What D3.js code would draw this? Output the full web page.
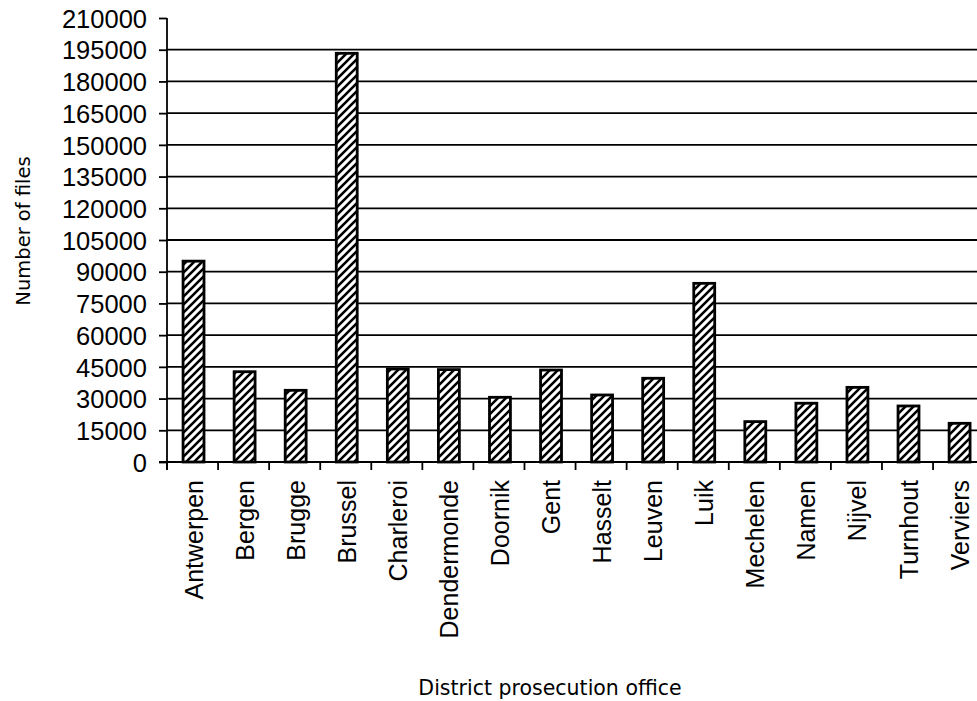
<!DOCTYPE html>
<html>
<head>
<meta charset="utf-8">
<script src="https://cdn.jsdelivr.net/npm/d3@7/dist/d3.min.js"></script>
<style>
html,body{margin:0;padding:0;background:#fff;}
svg{display:block;}
</style>
</head>
<body>
<svg id="chart" width="977" height="701"></svg>
<script>
const categories = ["Antwerpen","Bergen","Brugge","Brussel","Charleroi","Dendermonde","Doornik","Gent","Hasselt","Leuven","Luik","Mechelen","Namen","Nijvel","Turnhout","Verviers"];
const values = [95000,42700,33900,193300,44000,43700,30600,43500,31700,39600,84500,19100,27800,35300,26500,18300];
const yTicks = [0,15000,30000,45000,60000,75000,90000,105000,120000,135000,150000,165000,180000,195000,210000];

const svg = d3.select("#chart");
const x0 = 167, x1 = 167 + 16*51.07, y0 = 462, y1 = 18;

const x = d3.scaleBand().domain(categories).range([x0, x1]).padding(0);
const y = d3.scaleLinear().domain([0, 210000]).range([y0, y1]);

const defs = svg.append("defs");
const pat = defs.append("pattern").attr("id","hatch").attr("patternUnits","userSpaceOnUse")
  .attr("width",8).attr("height",8);
pat.append("rect").attr("width",8).attr("height",8).attr("fill","#fff");
pat.append("path").attr("d","M-1,1 l2,-2 M0,8 l8,-8 M7,9 l2,-2")
  .attr("stroke","#000").attr("stroke-width",2.6);

// gridlines (no line at top 210000)
svg.append("g").selectAll("line").data(yTicks.filter(t => t > 0 && t < 210000)).join("line")
  .attr("x1", x0).attr("x2", 977).attr("y1", d => y(d)).attr("y2", d => y(d))
  .attr("stroke","#000").attr("stroke-width",1.8);

// y axis
const yAxis = d3.axisLeft(y).tickValues(yTicks).tickSize(8).tickFormat(d3.format("d"));
const gy = svg.append("g").attr("transform",`translate(${x0},0)`).call(yAxis);
gy.select(".domain").remove();
gy.selectAll(".tick line").attr("stroke","#000").attr("stroke-width",1.8);
gy.selectAll(".tick text").attr("x",-20).attr("dy","0.36em")
  .style("font-family","'Liberation Sans', Arial, sans-serif").style("font-size","25.5px").attr("fill","#000");
svg.append("line").attr("x1",x0).attr("x2",x0).attr("y1",y1).attr("y2",y0+8)
  .attr("stroke","#000").attr("stroke-width",1.8);

// bars
const bw = x.bandwidth()*0.41;
svg.append("g").selectAll("rect").data(categories).join("rect")
  .attr("x", (d) => x(d) + x.bandwidth()/2 - bw/2 + 1)
  .attr("width", bw)
  .attr("y", (d,i) => y(values[i]))
  .attr("height", (d,i) => y(0) - y(values[i]))
  .attr("fill","url(#hatch)").attr("stroke","#000").attr("stroke-width",2.8);

// x axis baseline and ticks
svg.append("line").attr("x1",x0-8).attr("x2",977).attr("y1",y0).attr("y2",y0)
  .attr("stroke","#000").attr("stroke-width",1.8);
svg.append("g").selectAll("line").data(categories).join("line")
  .attr("x1", d => x(d)).attr("x2", d => x(d)).attr("y1", y0).attr("y2", y0+8)
  .attr("stroke","#000").attr("stroke-width",1.8);

// x labels
svg.append("g").selectAll("text").data(categories).join("text")
  .attr("transform", d => `translate(${x(d)+x.bandwidth()/2+1},480) rotate(-90)`)
  .attr("text-anchor","end").attr("dy","0.36em")
  .style("font-family","'Liberation Sans', Arial, sans-serif").style("font-size","25px")
  .attr("fill","#000").text(d => d);

// axis titles
svg.append("text").attr("x",550).attr("y",695).attr("text-anchor","middle")
  .style("font-family","'DejaVu Sans', Verdana, sans-serif").style("font-size","20.5px")
  .attr("fill","#000").text("District prosecution office");
svg.append("text").attr("transform","translate(30,231) rotate(-90)").attr("text-anchor","middle")
  .style("font-family","'DejaVu Sans', Verdana, sans-serif").style("font-size","19.5px")
  .attr("fill","#000").text("Number of files");
</script>
</body>
</html>
